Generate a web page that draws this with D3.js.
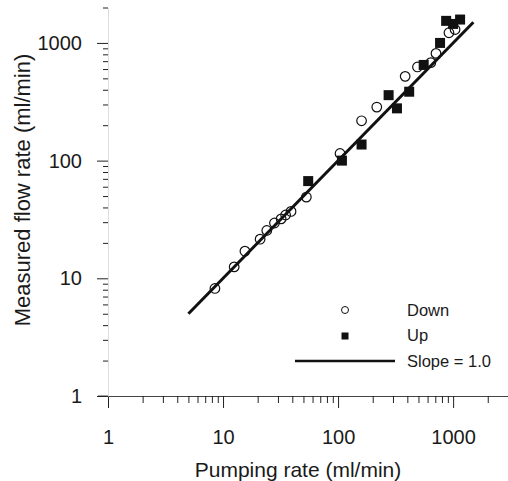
<!DOCTYPE html>
<html>
<head>
	<meta charset="utf-8">
	<script src="https://cdnjs.cloudflare.com/ajax/libs/d3/7.8.5/d3.min.js"></script>
	<style>
		body {
			margin: 0;
			background: #fff;
			font-family: "Liberation Sans", Arial, Helvetica, sans-serif;
		}
		.axis text {
			font-family: "Liberation Sans", Arial, Helvetica, sans-serif;
			font-size: 20px;
			fill: #1a1a1a;
		}
		.axis line { stroke: #222; }
		.x-axis path { stroke: #444; }
		.y-axis path { stroke: #ddd; }
		.minor path { display: none; }
	</style>
</head>
<body>
	<svg width="508" height="481"></svg>
	<script>
	// values
	const downX = [8.5, 12.5, 15.5, 21, 24, 28, 32, 35, 39, 53, 104, 160, 217, 383, 490, 640, 710, 920, 1040];
	const downY = [8.2, 12.5, 17, 21.5, 25.5, 29.5, 32, 34.5, 37, 49, 115, 218, 285, 520, 625, 680, 815, 1220, 1300];
	const upX = [55, 108, 160, 275, 325, 415, 555, 770, 870, 1000, 1150];
	const upY = [67, 100, 137, 360, 278, 385, 650, 1000, 1540, 1450, 1580];
	const slopeLine = [5, 1500];
	const majorTicks = [1, 10, 100, 1000];
	const tickLabels = ["1", "10", "100", "1000"];
	const minorX = [2,3,4,5,6,7,8,9,20,30,40,50,60,70,80,90,200,300,400,500,600,700,800,900,2000,3000];
	const minorY = [2,3,4,5,6,7,8,9,20,30,40,50,60,70,80,90,200,300,400,500,600,700,800,900,2000];
	const legendItems = ["Down", "Up", "Slope = 1.0"];

	let svg = d3.select("svg");

	//scales
	let x = d3.scaleLog().domain([1, 3000]).range([108, 508]),
		y = d3.scaleLog().domain([1, 2000]).range([396, 7.5]);

	//x axis
	svg.append("g")
		.attr("class", "axis x-axis")
		.attr("transform", "translate(0,396)")
		.call(d3.axisBottom(x).tickValues(majorTicks).tickSize(12).tickSizeOuter(0)
			.tickPadding(22).tickFormat((d, i) => tickLabels[i]));
	svg.append("g")
		.attr("class", "axis minor")
		.attr("transform", "translate(0,396)")
		.call(d3.axisBottom(x).tickValues(minorX).tickSize(7).tickFormat(""));
	// left stub of the baseline
	svg.append("line")
		.attr("x1", 98).attr("x2", x(1))
		.attr("y1", 396).attr("y2", 396)
		.style("stroke", "#444");

	//y axis
	svg.append("g")
		.attr("class", "axis y-axis")
		.attr("transform", "translate(108,0)")
		.call(d3.axisLeft(y).tickValues(majorTicks).tickSize(11).tickSizeOuter(0)
			.tickPadding(15).tickFormat((d, i) => tickLabels[i]));
	svg.append("g")
		.attr("class", "axis minor")
		.attr("transform", "translate(108,0)")
		.call(d3.axisLeft(y).tickValues(minorY).tickSize(5).tickFormat(""));

	//axis titles
	svg.append("text")
		.attr("x", 298)
		.attr("y", 477)
		.attr("text-anchor", "middle")
		.style("font-size", "21px")
		.style("fill", "#1a1a1a")
		.text("Pumping rate (ml/min)");
	svg.append("text")
		.attr("transform", "translate(30,190) rotate(-90)")
		.attr("text-anchor", "middle")
		.style("font-size", "22px")
		.style("fill", "#1a1a1a")
		.text("Measured flow rate (ml/min)");

	//down points
	svg.selectAll(".down")
		.data(downX.map((d, i) => [d, downY[i]]))
		.enter()
		.append("circle")
		.attr("class", "down")
		.attr("cx", d => x(d[0]))
		.attr("cy", d => y(d[1]))
		.attr("r", 4.8)
		.style("fill", "none")
		.style("stroke", "#111")
		.style("stroke-width", 1.2);

	//up points
	let sq = 10;
	svg.selectAll(".up")
		.data(upX.map((d, i) => [d, upY[i]]))
		.enter()
		.append("rect")
		.attr("class", "up")
		.attr("x", d => x(d[0]) - sq / 2)
		.attr("y", d => y(d[1]) - sq / 2)
		.attr("width", sq)
		.attr("height", sq)
		.style("fill", "#111");

	//slope = 1 line
	svg.append("line")
		.attr("x1", x(slopeLine[0])).attr("y1", y(slopeLine[0]))
		.attr("x2", x(slopeLine[1])).attr("y2", y(slopeLine[1]))
		.style("stroke", "#111")
		.style("stroke-width", 3);

	//legend
	let legend = svg.append("g").attr("transform", "translate(345,310)");
	legend.append("circle").attr("cx", 0).attr("cy", 0).attr("r", 3.5)
		.style("fill", "none").style("stroke", "#111").style("stroke-width", 1);
	legend.append("rect").attr("x", -3.5).attr("y", 22.5).attr("width", 7).attr("height", 7)
		.style("fill", "#111");
	legend.append("line").attr("x1", -50).attr("x2", 50).attr("y1", 51).attr("y2", 51)
		.style("stroke", "#111").style("stroke-width", 2.5);
	legend.selectAll("text")
		.data(legendItems)
		.enter()
		.append("text")
		.attr("x", 62)
		.attr("y", (d, i) => i * 25.5)
		.attr("dy", "0.36em")
		.style("font-size", "16.5px")
		.style("fill", "#1a1a1a")
		.text(d => d);
	</script>
</body>
</html>
